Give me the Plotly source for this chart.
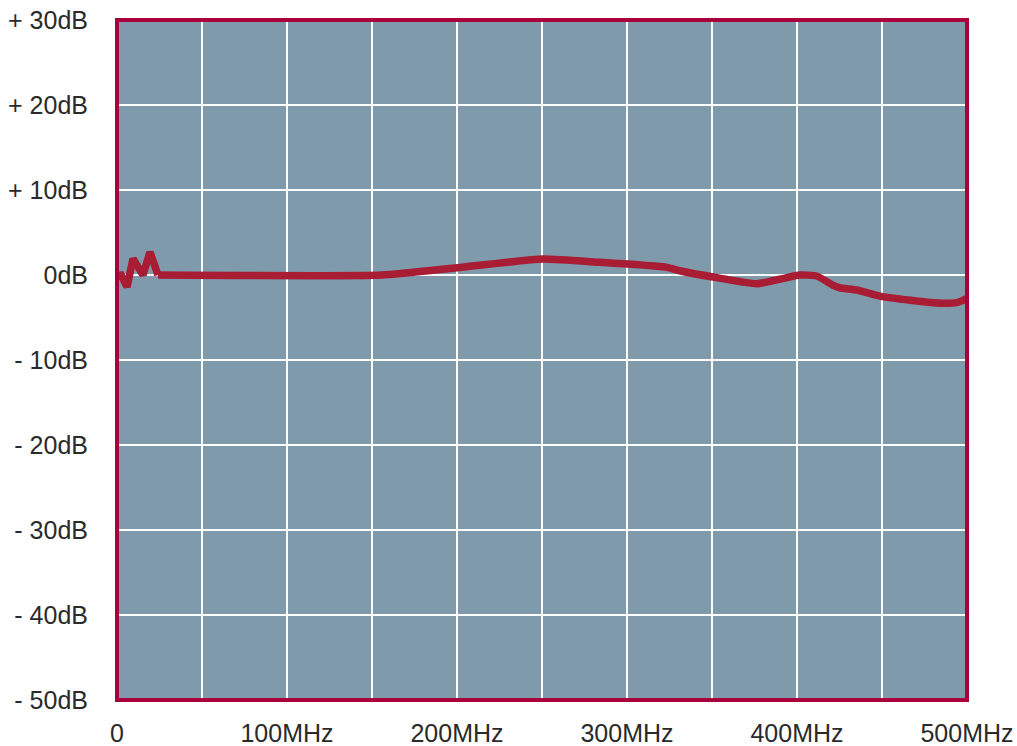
import plotly.graph_objects as go

# Frequency response data
freq_mhz = [0, 2.4, 5.9, 9.4, 15.3, 19.4, 24.1, 155.8, 200.0, 250.5, 284.1, 300.5,
            323.4, 331.0, 351.6, 376.3, 389.8, 401.6, 411.6, 421.0, 425.1, 435.1,
            450.4, 470.4, 485.6, 493.9, 498.6, 500.0]
gain_db = [0.0, 0.0, -1.4, 1.9, 0.0, 2.7, 0.0, 0.0, 0.86, 1.88, 1.49, 1.29,
           0.9, 0.5, -0.27, -1.02, -0.5, 0.0, -0.12, -1.18, -1.5, -1.76,
           -2.55, -3.06, -3.33, -3.25, -2.9, -2.75]

x_grid_vals = [0, 50, 100, 150, 200, 250, 300, 350, 400, 450, 500]
x_tick_text = ["0", "", "100MHz", "", "200MHz", "", "300MHz", "", "400MHz", "", "500MHz"]
y_tick_vals = [30, 20, 10, 0, -10, -20, -30, -40, -50]
y_tick_text = ["+ 30dB", "+ 20dB", "+ 10dB", "0dB", "- 10dB", "- 20dB",
               "- 30dB", "- 40dB", "- 50dB"]

LINE = "#A81C34"
FRAME = "#A8003A"
BG = "#7F9BAB"

SPLIT = 7  # sharp ripple at the start, smooth curve afterwards

fig = go.Figure()
fig.add_trace(go.Scatter(x=freq_mhz[:SPLIT], y=gain_db[:SPLIT], mode="lines",
                         line=dict(color=LINE, width=7.5), hoverinfo="skip"))
fig.add_trace(go.Scatter(x=freq_mhz[SPLIT - 1:], y=gain_db[SPLIT - 1:], mode="lines",
                         line=dict(color=LINE, width=7.5, shape="spline", smoothing=0.5),
                         hoverinfo="skip"))

fig.update_layout(
    width=1017, height=746,
    autosize=False,
    margin=dict(l=117, r=50, t=20, b=46, autoexpand=False),
    paper_bgcolor="white",
    plot_bgcolor=BG,
    showlegend=False,
    font=dict(family="Liberation Sans, Arial, sans-serif", size=25, color="#2a2a2a"),
    xaxis=dict(range=[0, 500], tickvals=x_grid_vals, ticktext=x_tick_text,
               showgrid=True, gridcolor="white", gridwidth=2, zeroline=False,
               ticks="", ticklabelstandoff=16, showline=False, fixedrange=True,
               automargin=False),
    yaxis=dict(range=[-50, 30], tickvals=y_tick_vals, ticktext=y_tick_text,
               showgrid=True, gridcolor="white", gridwidth=2, zeroline=False,
               ticks="", ticklabelstandoff=28, showline=False, fixedrange=True,
               automargin=False),
    shapes=[dict(type="rect", xref="paper", yref="paper", x0=0, x1=1, y0=0, y1=1,
                 line=dict(color=FRAME, width=4), layer="above")],
)

fig.write_html("out.html", config={"displayModeBar": False},
               post_script="document.body.style.margin='0';document.body.style.overflow='hidden';")
